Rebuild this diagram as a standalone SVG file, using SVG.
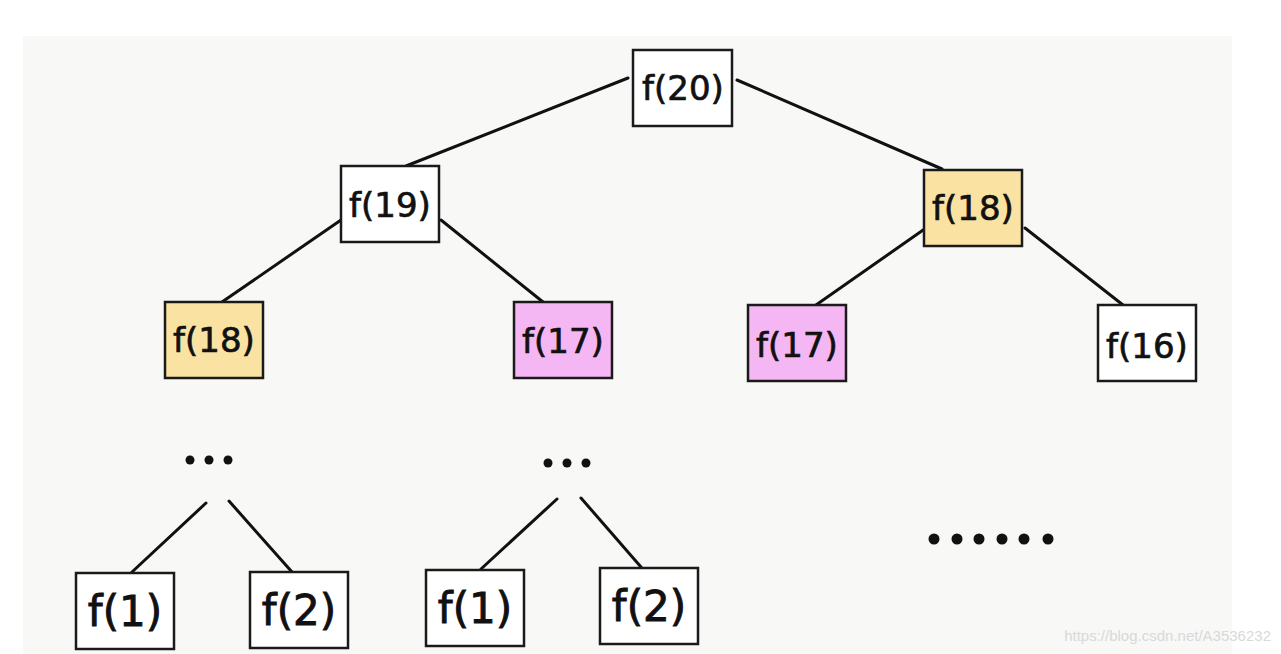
<svg xmlns="http://www.w3.org/2000/svg" width="1281" height="654" viewBox="0 0 1281 654">
  <style>
    .box { stroke: #1a1a1a; stroke-width: 2.5; }
    .plain { fill: #ffffff; }
    .yellow { fill: #fae3a2; }
    .pink { fill: #f5b6f4; }
    .lbl { font-family: "DejaVu Sans", "Noto Sans", sans-serif; fill: #111; stroke: #111; stroke-width: 0.7; text-anchor: middle; }
    .m { font-size: 34px; }
    .l { font-size: 42px; stroke-width: 0.9; }
    .edge { stroke: #111; stroke-width: 3; fill: none; stroke-linecap: round; }
    .dot { fill: #111; }
  </style>
  <rect x="0" y="0" width="1281" height="654" fill="#ffffff"/>
  <rect x="23" y="36" width="1209" height="618" fill="#f8f8f6"/>

  <g id="connectors">
    <line class="edge" x1="628" y1="78" x2="406" y2="166"/>
    <line class="edge" x1="737" y1="80" x2="942" y2="169"/>
    <line class="edge" x1="341" y1="220" x2="222" y2="302"/>
    <line class="edge" x1="441" y1="220" x2="543" y2="302"/>
    <line class="edge" x1="926" y1="228" x2="816" y2="305"/>
    <line class="edge" x1="1025" y1="228" x2="1123" y2="305"/>
    <line class="edge" x1="206" y1="503" x2="132" y2="572"/>
    <line class="edge" x1="229" y1="501" x2="292" y2="572"/>
    <line class="edge" x1="557" y1="499" x2="481" y2="569"/>
    <line class="edge" x1="581" y1="498" x2="641" y2="567"/>
  </g>

  <g id="n-f20">
    <rect class="box plain" x="633" y="50" width="99" height="76"/>
    <text class="lbl m" x="683" y="100">f(20)</text>
  </g>
  <g id="n-f19">
    <rect class="box plain" x="341" y="166" width="98" height="76"/>
    <text class="lbl m" x="390" y="217">f(19)</text>
  </g>
  <g id="n-f18-right">
    <rect class="box yellow" x="924" y="170" width="98" height="76"/>
    <text class="lbl m" x="973" y="220">f(18)</text>
  </g>
  <g id="n-f18-left">
    <rect class="box yellow" x="165" y="302" width="98" height="76"/>
    <text class="lbl m" x="214" y="352">f(18)</text>
  </g>
  <g id="n-f17-mid">
    <rect class="box pink" x="514" y="302" width="98" height="76"/>
    <text class="lbl m" x="563" y="353">f(17)</text>
  </g>
  <g id="n-f17-right">
    <rect class="box pink" x="748" y="305" width="98" height="76"/>
    <text class="lbl m" x="797" y="357">f(17)</text>
  </g>
  <g id="n-f16">
    <rect class="box plain" x="1098" y="305" width="98" height="76"/>
    <text class="lbl m" x="1147" y="358">f(16)</text>
  </g>

  <g id="dots-left">
    <circle class="dot" cx="190" cy="460" r="4.5"/>
    <circle class="dot" cx="209" cy="460" r="4.5"/>
    <circle class="dot" cx="228" cy="460" r="4.5"/>
  </g>
  <g id="dots-mid">
    <circle class="dot" cx="548" cy="463" r="4.5"/>
    <circle class="dot" cx="567" cy="463" r="4.5"/>
    <circle class="dot" cx="586" cy="463" r="4.5"/>
  </g>
  <g id="dots-right">
    <circle class="dot" cx="934" cy="539" r="5.5"/>
    <circle class="dot" cx="957" cy="539" r="5.5"/>
    <circle class="dot" cx="979" cy="539" r="5.5"/>
    <circle class="dot" cx="1002" cy="539" r="5.5"/>
    <circle class="dot" cx="1024" cy="539" r="5.5"/>
    <circle class="dot" cx="1048" cy="539" r="5.5"/>
  </g>

  <g id="n-f1-left">
    <rect class="box plain" x="76" y="573" width="98" height="76"/>
    <text class="lbl l" x="125" y="626">f(1)</text>
  </g>
  <g id="n-f2-left">
    <rect class="box plain" x="250" y="572" width="98" height="76"/>
    <text class="lbl l" x="299" y="625">f(2)</text>
  </g>
  <g id="n-f1-mid">
    <rect class="box plain" x="426" y="570" width="98" height="76"/>
    <text class="lbl l" x="475" y="623">f(1)</text>
  </g>
  <g id="n-f2-mid">
    <rect class="box plain" x="600" y="568" width="98" height="76"/>
    <text class="lbl l" x="649" y="621">f(2)</text>
  </g>

  <text x="1271" y="641" font-family="Liberation Sans, Arial, sans-serif" font-size="15" fill="#d9d9d9" text-anchor="end">https://blog.csdn.net/A3536232</text>
</svg>
